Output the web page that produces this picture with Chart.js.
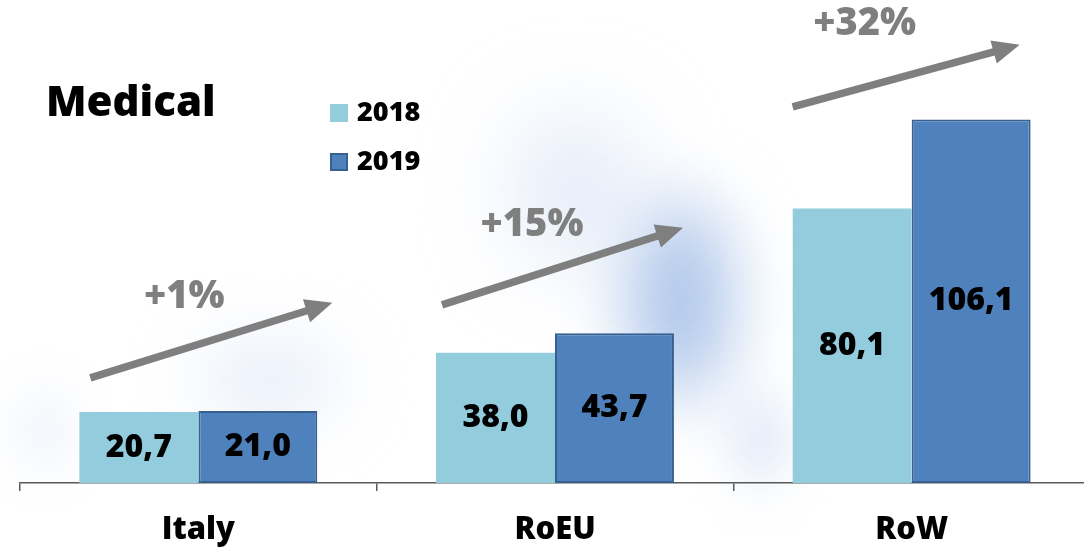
<!DOCTYPE html>
<html>
<head>
<meta charset="utf-8">
<script src="https://cdn.jsdelivr.net/npm/chart.js@4/dist/chart.umd.min.js"></script>
<style>
  html, body { margin: 0; padding: 0; background: #ffffff; overflow: hidden; }
  #wrap { position: absolute; left: 0; top: 0; width: 1090px; height: 550px; }
</style>
</head>
<body>
<div id="wrap"><canvas id="c" width="1090" height="550"></canvas></div>
<script>
// ---- data ----
const categories = ['Italy', 'RoEU', 'RoW'];
const values2018 = [20.7, 38.0, 80.1];
const values2019 = [21.0, 43.7, 106.1];
const seriesLabels = ['2018', '2019'];
const growthLabels = ['+1%', '+15%', '+32%'];
const chartTitle = 'Medical';

// arrow decorations: tail/tip as (offset from category centre in px, value on y scale)
const arrowTailDx = [-108, -113, -119];
const arrowTailVal = [30.7, 52.0, 109.8];
const arrowTipDx = [134, 128, 108];
const arrowTipVal = [52.6, 74.5, 127.9];
const growthTextDx = [-14, -23, -47];
const growthTextVal = [54.3, 75.3, 134.0];

const FONT = '"Open Sans", "DejaVu Sans", sans-serif';
const W = '800';
const C2018 = '#93CDDD';
const C2019 = '#4F81BD';
const C2019B = '#36608F';

const glowPlugin = {
  id: 'glow',
  beforeDraw(chart) {
    const ctx = chart.ctx;
    // [cx, cy, rx, ry, colour, blur]
    const glows = [
      [680, 300, 50, 100, 'rgba(165,192,232,0.95)', 35],
      [575, 190, 60, 75, 'rgba(205,218,242,0.6)', 45],
      [270, 380, 70, 35, 'rgba(210,222,244,0.6)', 35],
      [760, 440, 25, 45, 'rgba(195,212,240,0.6)', 25],
      [45, 430, 25, 40, 'rgba(220,230,246,0.5)', 25]
    ];
    ctx.save();
    glows.forEach(([x, y, rx, ry, c, b]) => {
      ctx.filter = 'blur(' + b + 'px)';
      ctx.fillStyle = c;
      ctx.beginPath();
      ctx.ellipse(x, y, rx, ry, 0, 0, Math.PI * 2);
      ctx.fill();
    });
    ctx.filter = 'none';
    ctx.restore();
  }
};

const decoPlugin = {
  id: 'deco',
  afterDatasetsDraw(chart) {
    const ctx = chart.ctx;
    const xs = chart.scales.x, ys = chart.scales.y;
    ctx.save();
    // value labels
    ctx.font = W + ' 32px ' + FONT;
    ctx.fillStyle = '#000000';
    ctx.textAlign = 'center';
    ctx.textBaseline = 'middle';
    chart.data.datasets.forEach((ds, di) => {
      chart.getDatasetMeta(di).data.forEach((bar, i) => {
        const txt = ds.data[i].toFixed(1).replace('.', ',');
        ctx.fillText(txt, bar.x, (bar.y + bar.base) / 2);
      });
    });
    // arrows and growth labels
    ctx.strokeStyle = '#7F7F7F';
    ctx.fillStyle = '#7F7F7F';
    categories.forEach((c, i) => {
      const cx = xs.getPixelForValue(i);
      const x1 = cx + arrowTailDx[i], y1 = ys.getPixelForValue(arrowTailVal[i]);
      const x2 = cx + arrowTipDx[i], y2 = ys.getPixelForValue(arrowTipVal[i]);
      const a = Math.atan2(y2 - y1, x2 - x1);
      const hl = 27, hw = 12;
      const bx = x2 - hl * Math.cos(a), by = y2 - hl * Math.sin(a);
      ctx.lineWidth = 7.5;
      ctx.lineCap = 'butt';
      ctx.beginPath();
      ctx.moveTo(x1, y1);
      ctx.lineTo(bx + 2 * Math.cos(a), by + 2 * Math.sin(a));
      ctx.stroke();
      ctx.beginPath();
      ctx.moveTo(x2, y2);
      ctx.lineTo(bx + hw * Math.sin(a), by - hw * Math.cos(a));
      ctx.lineTo(bx - hw * Math.sin(a), by + hw * Math.cos(a));
      ctx.closePath();
      ctx.fill();
      ctx.font = W + ' 38px ' + FONT;
      ctx.textAlign = 'center';
      ctx.textBaseline = 'middle';
      ctx.fillText(growthLabels[i], cx + growthTextDx[i], ys.getPixelForValue(growthTextVal[i]));
    });
    // title
    ctx.fillStyle = '#000000';
    ctx.font = W + ' 42px ' + FONT;
    ctx.textAlign = 'left';
    ctx.textBaseline = 'alphabetic';
    ctx.fillText(chartTitle, 46, 116);
    // legend
    const legY = [113, 162];
    chart.data.datasets.forEach((ds, di) => {
      const y = legY[di];
      ctx.fillStyle = ds.backgroundColor;
      ctx.fillRect(330, y - 9, 18, 18);
      if (ds.borderWidth) {
        ctx.strokeStyle = ds.borderColor;
        ctx.lineWidth = 2;
        ctx.strokeRect(331, y - 8, 16, 16);
      }
      ctx.fillStyle = '#000000';
      ctx.font = W + ' 27px ' + FONT;
      ctx.textAlign = 'left';
      ctx.textBaseline = 'middle';
      ctx.fillText(ds.label, 357, y);
    });
    ctx.restore();
  }
};

new Chart(document.getElementById('c'), {
  type: 'bar',
  data: {
    labels: categories,
    datasets: [
      { label: seriesLabels[0], data: values2018, backgroundColor: C2018, borderWidth: 0 },
      { label: seriesLabels[1], data: values2019, backgroundColor: C2019, borderColor: C2019B, borderWidth: 2, borderSkipped: false }
    ]
  },
  options: {
    responsive: false,
    animation: false,
    events: [],
    layout: { padding: { left: 20, right: 0, top: 0, bottom: 0 } },
    datasets: { bar: { categoryPercentage: 0.667, barPercentage: 1.0 } },
    plugins: { legend: { display: false }, tooltip: { enabled: false }, title: { display: false } },
    scales: {
      x: {
        offset: true,
        border: { display: true, color: '#595959', width: 1.5 },
        grid: { display: true, drawOnChartArea: false, drawTicks: true, tickLength: 8, color: '#595959', lineWidth: 1.5, offset: true },
        ticks: { color: '#000000', font: { family: FONT, size: 31, weight: W }, padding: 21 },
        afterFit(scale) { scale.height = 67; }
      },
      y: { display: false, min: 0, max: 141 }
    }
  },
  plugins: [glowPlugin, decoPlugin]
});
</script>
</body>
</html>
